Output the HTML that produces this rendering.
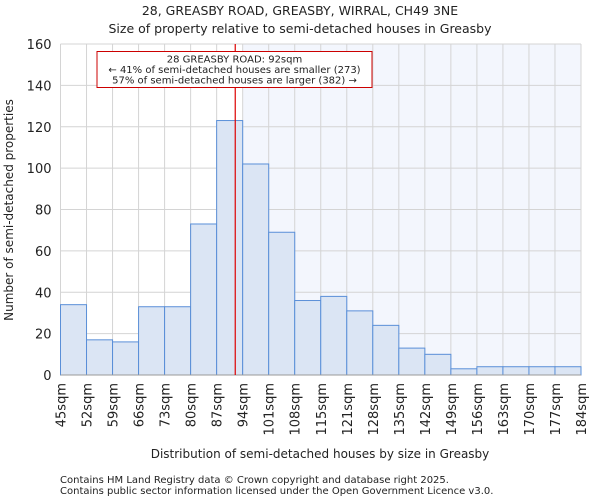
<!DOCTYPE html>
<html><head><meta charset="utf-8"><style>
body{margin:0;background:#fff;font-family:"DejaVu Sans","Liberation Sans",sans-serif;}
svg text{font-family:"DejaVu Sans","Liberation Sans",sans-serif;fill:#222;}
</style></head><body>
<svg id="chart" width="600" height="500" xmlns="http://www.w3.org/2000/svg">
<text x="300" y="15" text-anchor="middle" font-size="12.5">28, GREASBY ROAD, GREASBY, WIRRAL, CH49 3NE</text>
<text x="300" y="33" text-anchor="middle" font-size="12.5">Size of property relative to semi-detached houses in Greasby</text>
<g id="plot"></g>
<text x="320" y="458" text-anchor="middle" font-size="12">Distribution of semi-detached houses by size in Greasby</text>
<text transform="translate(13,210) rotate(-90)" text-anchor="middle" font-size="12">Number of semi-detached properties</text>
<text x="60" y="483" font-size="10" fill="#444">Contains HM Land Registry data © Crown copyright and database right 2025.</text>
<text x="60" y="494" font-size="10" fill="#444">Contains public sector information licensed under the Open Government Licence v3.0.</text>
</svg>
<script>
const binEdges=[45,52,59,66,73,80,87,94,101,108,115,121,128,135,142,149,156,163,170,177,184];
const tickLabels=["45sqm","52sqm","59sqm","66sqm","73sqm","80sqm","87sqm","94sqm","101sqm","108sqm","115sqm","121sqm","128sqm","135sqm","142sqm","149sqm","156sqm","163sqm","170sqm","177sqm","184sqm"];
const counts=[34,17,16,33,33,73,123,102,69,36,38,31,24,13,10,3,4,4,4,4];
const yTicks=[0,20,40,60,80,100,120,140,160];
const propertySize=92;
const ns="http://www.w3.org/2000/svg";
const L=60.5,R=581,T=44,B=375,yMax=160;
const n=counts.length;
const xIdx=i=>L+(R-L)*i/n;
const xVal=v=>{let i=0;while(i<n-1&&v>binEdges[i+1])i++;return xIdx(i)+(v-binEdges[i])/(binEdges[i+1]-binEdges[i])*(R-L)/n;};
const y=v=>B-(B-T)*v/yMax;
const g=document.getElementById('plot');
function mk(t,a){const e=document.createElementNS(ns,t);for(const k in a)e.setAttribute(k,a[k]);g.appendChild(e);return e;}
let bg=mk('rect',{x:L,y:T,width:R-L,height:B-T,fill:'#fff'});


let pi=binEdges.findIndex(e=>e>=propertySize);
let sh=mk('rect',{x:xIdx(pi),y:T,width:R-xIdx(pi),height:B-T,fill:'#f3f6fd'});


for(let i=0;i<=n;i++){let l=mk('line',{x1:xIdx(i),x2:xIdx(i),y1:T,y2:B,stroke:'#d4d4d4','stroke-width':1});

}
yTicks.forEach(v=>{let l=mk('line',{x1:L,x2:R,y1:y(v),y2:y(v),stroke:'#d4d4d4','stroke-width':1});


let t=mk('text',{x:L-9,y:y(v)+5,'text-anchor':'end','font-size':13});t.textContent=v;

});
counts.forEach((c,i)=>{let r=mk('rect',{x:xIdx(i),y:y(c),width:xIdx(i+1)-xIdx(i),height:B-y(c),fill:'#dbe5f4',stroke:'#5a8fd8','stroke-width':1});

});
tickLabels.forEach((s,i)=>{let t=mk('text',{transform:`translate(${xIdx(i)+5},${B+8}) rotate(-90)`,'text-anchor':'end','font-size':13});t.textContent=s;

});
let ax=mk('line',{x1:L,x2:R,y1:B,y2:B,stroke:'#999'});


let rl=mk('line',{x1:xVal(propertySize),x2:xVal(propertySize),y1:T,y2:B,stroke:'#d00','stroke-width':1.2});


let box=mk('rect',{x:97,y:51.5,width:275,height:36,fill:'#fff',stroke:'#c00','stroke-width':1});


["28 GREASBY ROAD: 92sqm","← 41% of semi-detached houses are smaller (273)","57% of semi-detached houses are larger (382) →"].forEach((s,i)=>{let t=mk('text',{x:234.5,y:62.5+i*10.5,'text-anchor':'middle','font-size':10});t.textContent=s;

});
</script>
</body></html>
